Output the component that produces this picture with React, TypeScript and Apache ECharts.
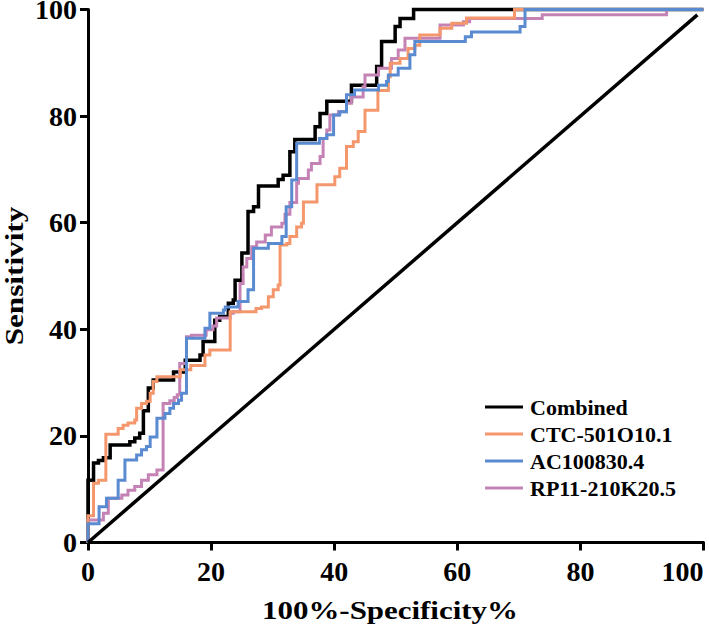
import React, { useEffect, useRef } from "react";
import * as echarts from "echarts";

const seriesNames = ["Combined", "CTC-501O10.1", "AC100830.4", "RP11-210K20.5"];
const xTicks = [0, 20, 40, 60, 80, 100];
const yTicks = [0, 20, 40, 60, 80, 100];
const xTitle = "100%-Specificity%";
const yTitle = "Sensitivity";

// [100%-Specificity%, Sensitivity] step corners
const combined: number[][] = [
  [0, 0], [0, 11.7], [0.9, 14.9], [1.7, 15.4], [2.5, 15.9], [3.6, 18.3], [6.8, 18.9], [7.6, 19.6],
  [8.4, 20.5], [9.0, 24.7], [9.8, 29.0], [10.6, 30.5], [13.9, 32.0], [15.8, 34.2], [18.2, 35.2],
  [18.7, 37.7], [20.6, 41.7], [21.4, 42.4], [22.8, 44.9], [23.6, 45.5], [23.9, 49.2], [25.0, 54.3],
  [26.0, 62.1], [26.9, 63.0], [27.7, 66.9], [30.9, 68.1], [31.7, 68.9], [32.8, 73.3], [33.6, 75.6],
  [36.9, 78.0], [37.7, 80.5], [38.8, 82.8], [42.8, 85.8], [46.9, 89.3], [47.7, 94.0], [49.9, 96.8],
  [50.7, 98.3], [52.9, 100], [100, 100],
];
const ctc: number[][] = [
  [0, 0], [0, 5.0], [0.9, 11.1], [1.7, 11.7], [2.9, 20.3], [4.9, 21.4], [5.7, 22.0], [6.5, 22.4],
  [7.6, 23.0], [7.9, 25.2], [8.7, 26.1], [9.5, 26.5], [10.1, 28.0], [10.6, 30.2], [11.2, 31.1],
  [15.0, 32.4], [16.7, 33.2], [19.0, 35.2], [19.8, 36.1], [23.1, 43.3], [27.3, 43.9], [28.2, 44.2],
  [29.3, 46.1], [30.1, 47.4], [30.9, 48.3], [31.2, 55.8], [32.3, 56.1], [32.8, 57.4], [33.9, 59.2],
  [34.7, 59.9], [35.0, 63.9], [37.2, 67.1], [40.1, 68.6], [40.9, 70.2], [42.0, 74.3], [43.1, 75.2],
  [43.9, 77.1], [45.0, 81.1], [47.1, 84.8], [48.8, 87.4], [49.1, 89.9], [50.7, 90.8], [52.0, 92.7],
  [53.1, 93.3], [53.9, 95.2], [57.2, 96.5], [59.1, 97.4], [61.5, 98.4], [69.3, 100], [100, 100],
];
const ac: number[][] = [
  [0, 0], [0, 3.5], [1.8, 6.7], [3.0, 8.3], [4.9, 11.7], [6.0, 15.5], [7.9, 16.4], [8.7, 17.4],
  [9.5, 18.0], [10.1, 19.8], [11.2, 23.3], [12.5, 24.2], [13.3, 25.2], [13.9, 26.1], [14.7, 26.7],
  [15.2, 28.0], [16.0, 38.3], [19.0, 40.2], [19.8, 43.0], [22.0, 43.6], [22.3, 44.2], [24.4, 45.2],
  [26.0, 47.4], [26.9, 55.2], [29.3, 56.1], [31.5, 57.4], [32.2, 63.0], [33.1, 68.0], [33.9, 74.9],
  [37.6, 75.8], [38.8, 76.5], [39.9, 80.2], [40.9, 80.8], [42.0, 84.0], [43.3, 84.9], [47.2, 85.8],
  [48.5, 86.5], [48.8, 87.7], [50.4, 89.0], [52.3, 91.5], [53.1, 94.0], [61.3, 94.9], [62.3, 95.8],
  [70.2, 96.8], [71.0, 100], [100, 100],
];
const rp: number[][] = [
  [0, 0], [0, 4.2], [2.5, 5.5], [3.3, 8.3], [5.5, 8.9], [6.5, 9.8], [7.6, 10.5], [8.7, 11.7],
  [9.8, 12.7], [11.2, 13.6], [12.2, 26.1], [13.3, 26.6], [14.0, 27.2], [14.5, 27.7], [14.9, 33.6],
  [16.0, 38.6], [16.8, 38.9], [19.2, 39.9], [20.3, 40.6], [20.9, 42.1], [23.1, 43.0], [23.6, 43.3],
  [24.7, 48.6], [25.2, 51.7], [25.8, 53.3], [26.6, 55.5], [27.4, 56.4], [28.8, 57.7], [29.8, 59.2],
  [31.5, 59.9], [32.0, 61.6], [32.8, 63.8], [33.9, 67.4], [34.2, 68.3], [35.8, 69.9], [36.3, 71.1],
  [37.7, 72.4], [38.2, 75.8], [38.8, 77.4], [39.3, 80.2], [40.7, 80.8], [42.0, 82.4], [42.8, 83.6],
  [44.7, 85.5], [45.0, 87.7], [47.2, 89.0], [49.3, 90.8], [50.4, 92.4], [51.5, 94.6], [57.2, 97.1],
  [61.0, 97.7], [62.0, 98.3], [73.8, 99.0], [94.0, 100], [100, 100],
];
const reference: number[][] = [[0, 0], [99, 99]];

const colors = ["#000000", "#F4976C", "#5A8AD0", "#C583B5"];
const FONT = "'Liberation Serif', 'Times New Roman', serif";

export default function App() {
  const ref = useRef<HTMLDivElement>(null);
  useEffect(() => {
    if (!ref.current) return;
    const chart = echarts.init(ref.current, null, { renderer: "svg" });
    const mk = (name: string, data: number[][], color: string, w: number) => ({
      name,
      type: "line",
      step: "end",
      data,
      showSymbol: false,
      clip: false,
      color,
      lineStyle: { width: w, color, join: "miter" },
      z: 3,
    });
    const axisCommon = {
      type: "value",
      min: 0,
      max: 100,
      interval: 20,
      axisLine: { show: true, lineStyle: { color: "#000", width: 3 } },
      axisTick: { show: true, length: 8, lineStyle: { color: "#000", width: 3 } },
      splitLine: { show: false },
    };
    chart.setOption({
      animation: false,
      backgroundColor: "#ffffff",
      grid: { left: 88, right: 5.5, top: 9.5, bottom: 86.5, containLabel: false, outerBoundsMode: "none" },
      legend: {
        data: seriesNames,
        orient: "vertical",
        left: 485,
        top: 396,
        padding: 0,
        icon: "rect",
        itemWidth: 38,
        itemHeight: 3,
        itemGap: 5,
        textStyle: {
          fontFamily: FONT, fontWeight: "bold", fontSize: 22, color: "#000", padding: [0, 0, 0, 2],
        },
      },
      graphic: [
        {
          type: "text",
          x: 390,
          y: 610,
          scaleX: 1.19,
          style: {
            text: xTitle, font: `bold 26px ${FONT}`, fill: "#000",
            textAlign: "center", textVerticalAlign: "middle",
          },
        },
        {
          type: "text",
          x: 14,
          y: 276,
          rotation: Math.PI / 2,
          scaleX: 1.2,
          style: {
            text: yTitle, font: `bold 26px ${FONT}`, fill: "#000",
            textAlign: "center", textVerticalAlign: "middle",
          },
        },
      ],
      xAxis: {
        ...axisCommon,
        axisLabel: {
          fontFamily: FONT, fontWeight: "bold", fontSize: 28, color: "#000", margin: 15,
          alignMaxLabel: "right",
          formatter: (v: number) => (xTicks.includes(v) ? String(v) : ""),
        },
      },
      yAxis: {
        ...axisCommon,
        axisLabel: {
          fontFamily: FONT, fontWeight: "bold", fontSize: 28, color: "#000", margin: 11,
          lineHeight: 20,
          formatter: (v: number) => (yTicks.includes(v) ? String(v) : ""),
        },
      },
      series: [
        mk(seriesNames[0], combined, colors[0], 3.5),
        mk(seriesNames[3], rp, colors[3], 3),
        mk(seriesNames[1], ctc, colors[1], 3),
        mk(seriesNames[2], ac, colors[2], 3),
        {
          name: "reference",
          type: "line",
          data: reference,
          showSymbol: false,
          clip: false,
          lineStyle: { width: 3.5, color: "#000" },
          z: 4,
        },
      ],
    });
    return () => chart.dispose();
  }, []);
  return (
    <div
      ref={ref}
      style={{ position: "fixed", left: 0, top: 0, width: 709, height: 629, background: "#fff" }}
    />
  );
}
